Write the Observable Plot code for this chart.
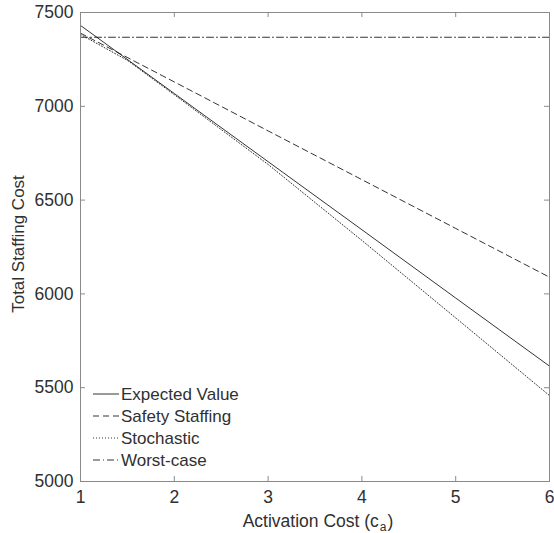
<!DOCTYPE html>
<html><head><meta charset="utf-8">
<script src="https://cdn.jsdelivr.net/npm/d3@7"></script>
<script src="https://cdn.jsdelivr.net/npm/@observablehq/plot@0.6"></script>
<style>body{margin:0;background:#fff;} #chart svg{display:block;}</style>
</head><body><div id="chart"></div>
<script>
const xTicks = [1, 2, 3, 4, 5, 6];
const yTicks = [5000, 5500, 6000, 6500, 7000, 7500];

const expectedX = [1, 2, 3, 4, 5, 6];
const expectedY = [7431, 7068, 6705, 6342, 5978, 5615];
const safetyX = [1, 2, 3, 4, 5, 6];
const safetyY = [7390, 7130, 6869, 6609, 6349, 6089];
const stochasticX = [1, 1.5, 2, 3, 4, 5, 6];
const stochasticY = [7383, 7245, 7062, 6690, 6285, 5872, 5458];
const worstX = [1, 6];
const worstY = [7368, 7368];

const seriesNames = ["Expected Value", "Safety Staffing", "Stochastic", "Worst-case"];
const dashes = [null, "6,4", "1,2", "7,3,1,3"];

const toRows = (xs, ys) => xs.map((x, i) => ({x, y: ys[i]}));
const series = [
  toRows(expectedX, expectedY),
  toRows(safetyX, safetyY),
  toRows(stochasticX, stochasticY),
  toRows(worstX, worstY)
];

const W = 554, H = 533, mL = 80, mR = 5, mT = 12, mB = 52;
const innerH = H - mT - mB;
const axisColor = "#303030";
const frameColor = "#8a8a8a";
const font = "'Liberation Sans', Arial, sans-serif";

const chart = Plot.plot({
  width: W, height: H,
  marginLeft: mL, marginRight: mR, marginTop: mT, marginBottom: mB,
  style: {fontFamily: font, fontSize: "17px", color: axisColor, background: "#fff"},
  x: {domain: [1, 6]},
  y: {domain: [5000, 7500]},
  marks: [
    Plot.axisX(xTicks, {tickSize: 0, tickPadding: 9, label: null, fontSize: 17.5, fill: axisColor, tickFormat: d => String(d)}),
    Plot.axisY(yTicks, {tickSize: 0, tickPadding: 7, label: null, fontSize: 17.5, fill: axisColor, tickFormat: d => String(d)}),
    Plot.ruleX(xTicks, {x: d => d, insetTop: innerH - 5, stroke: frameColor}),
    Plot.ruleX(xTicks, {x: d => d, insetBottom: innerH - 5, stroke: frameColor}),
    Plot.ruleY(yTicks, {y: d => d, insetRight: (W - mL - mR) - 5, stroke: frameColor}),
    Plot.ruleY(yTicks, {y: d => d, insetLeft: (W - mL - mR) - 5, stroke: frameColor}),
    ...series.map((rows, i) => Plot.line(rows, {
      x: "x", y: "y", stroke: "#000", strokeWidth: 0.8,
      strokeDasharray: dashes[i] || undefined
    })),
    Plot.frame({stroke: frameColor, strokeWidth: 1})
  ]
});

const svg = d3.select(chart);
// x axis label with subscript
const xl = svg.append("text")
  .attr("x", 318).attr("y", 527)
  .attr("text-anchor", "middle")
  .attr("font-family", font).attr("font-size", 17.5).attr("fill", axisColor);
xl.append("tspan").text("Activation Cost (c");
xl.append("tspan").attr("font-size", 12).attr("dx", 1).attr("dy", 4).text("a");
xl.append("tspan").attr("dx", 1).attr("dy", -4).text(")");

// y axis label
svg.append("text")
  .attr("transform", "translate(24,244) rotate(-90)")
  .attr("text-anchor", "middle")
  .attr("font-family", font).attr("font-size", 17).attr("fill", axisColor)
  .text("Total Staffing Cost");

// legend
const lg = svg.append("g").attr("text-anchor", "start");
const legY = [394, 416, 438, 460];
seriesNames.forEach((name, i) => {
  const l = lg.append("line")
    .attr("x1", 93).attr("x2", 119).attr("y1", legY[i]).attr("y2", legY[i])
    .attr("stroke", "#000").attr("stroke-width", 0.8);
  if (dashes[i]) l.attr("stroke-dasharray", dashes[i]);
  lg.append("text")
    .attr("x", 121).attr("y", legY[i]).attr("dy", "0.35em")
    .attr("text-anchor", "start")
    .attr("font-family", font).attr("font-size", 17).attr("fill", axisColor)
    .text(name);
});

document.getElementById("chart").append(chart);
</script>
</body></html>
